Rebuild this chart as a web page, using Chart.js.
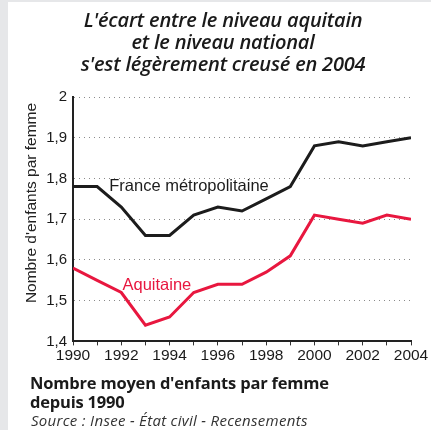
<!DOCTYPE html>
<html>
<head>
<meta charset="utf-8">
<script src="https://cdn.jsdelivr.net/npm/chart.js@4"></script>
<style>
  html, body { margin: 0; padding: 0; background: #fff; }
  #wrap { position: relative; width: 431px; height: 430px; overflow: hidden; background: #fff; }
  #strip { position: absolute; left: 0; top: 0; width: 8px; height: 430px; background: #e6e7e9; }
  #topstrip { position: absolute; left: 0; top: 0; width: 431px; height: 2px; background: #e6e7e9; }
  canvas { position: absolute; left: 0; top: 0; }
  #title { position: absolute; left: 0; top: 9px; width: 446px; text-align: center;
    font-family: "Open Sans", sans-serif; font-style: italic; font-weight: 600; font-size: 20px; line-height: 22px; color: #1a1a1a; letter-spacing: -0.2px; }
  #foot { position: absolute; left: 30px; top: 373px; font-family: "Open Sans", sans-serif; font-weight: bold;
    font-size: 16.5px; line-height: 19px; color: #1a1a1a; letter-spacing: -0.2px; }
  #src { position: absolute; left: 31px; top: 410px; font-family: "Open Sans", sans-serif; font-style: italic;
    font-size: 15px; letter-spacing: 0.3px; color: #333; }
</style>
</head>
<body>
<div id="wrap">
  <canvas id="lineChart" width="431" height="430"></canvas>
  <div id="strip"></div>
  <div id="topstrip"></div>
  <div id="title">L'écart entre le niveau aquitain<br>et le niveau national<br>s'est légèrement creusé en 2004</div>
  <div id="foot">Nombre moyen d'enfants par femme<br>depuis 1990</div>
  <div id="src">Source : Insee - État civil - Recensements</div>
</div>
<script>
const years = [1990,1991,1992,1993,1994,1995,1996,1997,1998,1999,2000,2001,2002,2003,2004]
const france = [1.78,1.78,1.73,1.66,1.66,1.71,1.73,1.72,1.75,1.78,1.88,1.89,1.88,1.89,1.90]
const aquitaine = [1.58,1.55,1.52,1.44,1.46,1.52,1.54,1.54,1.57,1.61,1.71,1.70,1.69,1.71,1.70]
const yTicks = [1.4,1.5,1.6,1.7,1.8,1.9,2]
const xLabelYears = [1990,1992,1994,1996,1998,2000,2002,2004]

const BLACK = "#1c1c1c"
const RED = "#e8173f"
const FONT = "'Liberation Sans', Arial, sans-serif"

// text placed on the chart (series names + y title)
const textPlugin = {
  id: "texts",
  afterDraw(chart) {
    const ctx = chart.ctx
    const x = chart.scales.x, y = chart.scales.y
    ctx.save()
    ctx.font = "16.5px " + FONT
    ctx.textBaseline = "middle"
    ctx.textAlign = "left"
    ctx.fillStyle = BLACK
    ctx.fillText("France métropolitaine", x.getPixelForValue(1991.5), y.getPixelForValue(1.78))
    ctx.fillStyle = RED
    ctx.fillText("Aquitaine", x.getPixelForValue(1992.05), y.getPixelForValue(1.538))
    // y title
    ctx.fillStyle = "#222"
    ctx.font = "15.5px " + FONT
    ctx.translate(32, 203)
    ctx.rotate(-Math.PI / 2)
    ctx.textAlign = "center"
    ctx.fillText("Nombre d'enfants par femme", 0, 0)
    ctx.restore()
  }
}

const CHART = document.getElementById("lineChart")

let lineChart = new Chart(CHART, {
  type: "line",
  data: {
    datasets: [
      {
        label: "France métropolitaine",
        data: years.map((yr, i) => ({x: yr, y: france[i]})),
        borderColor: BLACK,
        borderWidth: 3,
        pointRadius: 0,
        tension: 0
      },
      {
        label: "Aquitaine",
        data: years.map((yr, i) => ({x: yr, y: aquitaine[i]})),
        borderColor: RED,
        borderWidth: 3,
        pointRadius: 0,
        tension: 0
      }
    ]
  },
  options: {
    responsive: false,
    animation: false,
    layout: { padding: { left: 0, right: 20, top: 97, bottom: 64 } },
    plugins: {
      legend: { display: false },
      tooltip: { enabled: false }
    },
    scales: {
      x: {
        type: "linear",
        min: 1990,
        max: 2004,
        afterBuildTicks(scale) { scale.ticks = years.map(v => ({value: v})) },
        ticks: {
          autoSkip: false,
          maxRotation: 0,
          padding: 1,
          color: "#1a1a1a",
          font: { family: FONT, size: 15.5 },
          callback: v => xLabelYears.includes(v) ? String(v) : ""
        },
        grid: { drawOnChartArea: false, drawTicks: true, tickLength: 4, color: "#333", lineWidth: 1 },
        border: { display: true, color: "#222", width: 2 }
      },
      y: {
        min: 1.4,
        max: 2,
        afterBuildTicks(scale) { scale.ticks = yTicks.map(v => ({value: v})) },
        afterFit(scale) { scale.width = 73 },
        ticks: {
          padding: 6,
          color: "#1a1a1a",
          font: { family: FONT, size: 15 },
          callback: v => String(Math.round(v * 10) / 10).replace(".", ",")
        },
        grid: {
          drawTicks: false,
          color: "#8a8a8a",
          lineWidth: 1
        },
        border: { display: true, color: "#222", width: 2, dash: [1, 4] }
      }
    }
  },
  plugins: [textPlugin]
})
</script>
</body>
</html>
